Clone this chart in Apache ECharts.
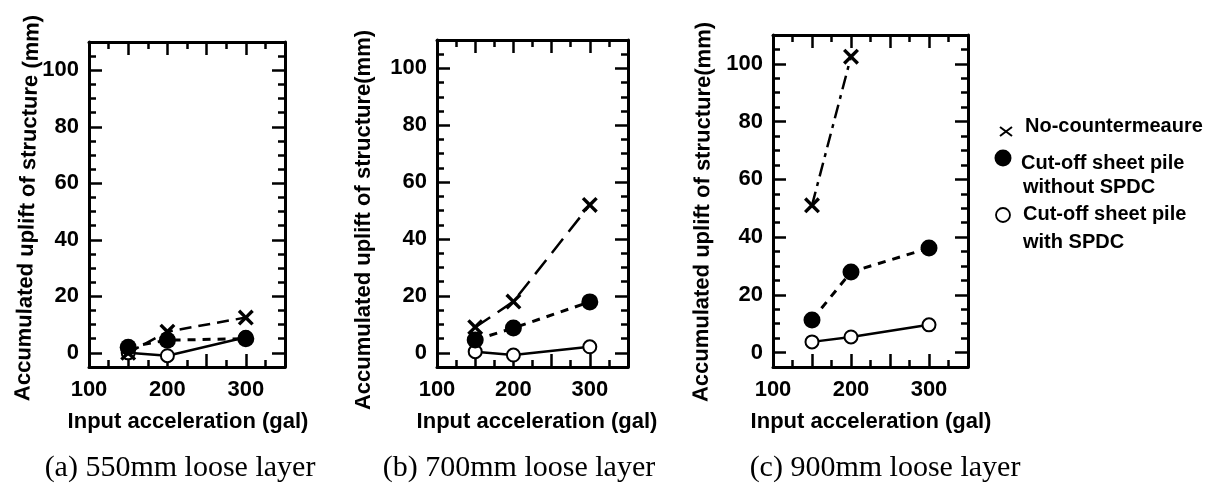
<!DOCTYPE html>
<html>
<head>
<meta charset="utf-8">
<script src="https://cdn.jsdelivr.net/npm/echarts@6/dist/echarts.min.js"></script>
<style>
  html, body { margin: 0; padding: 0; background: #fff; }
  #chart { width: 1222px; height: 487px; }
</style>
</head>
<body>
<div id="chart"></div>
<script>
// input acceleration (gal)
const accel = [150, 200, 300];
const accelC = [150, 200];

// (a) 550mm loose layer
const noCmA = [0, 7.5, 12.5];
const withoutA = [2, 4.5, 5];
const withA = [0, -1, 5.5];
// (b) 700mm loose layer
const noCmB = [9, 18, 52];
const withoutB = [4.5, 8.7, 17.9];
const withB = [0.4, -0.8, 2.1];
// (c) 900mm loose layer
const noCmC = [51, 102.5];
const withoutC = [11.3, 27.9, 36.2];
const withC = [3.7, 5.4, 9.6];

const yLabels = [0, 20, 40, 60, 80, 100];
const xLabels = [100, 200, 300];
const captions = ['(a) 550mm loose layer', '(b) 700mm loose layer', '(c) 900mm loose layer'];
const yTitles = ['Accumulated uplift of structure (mm)', 'Accumulated uplift of structure(mm)', 'Accumulated uplift of structure(mm)'];

const grids = [
  { left: 89, top: 42, width: 196, height: 325 },
  { left: 437, top: 40, width: 191, height: 327 },
  { left: 773, top: 35, width: 195, height: 332 }
];

const pair = (xs, ys) => xs.map((x, i) => [x, ys[i]]);
const panels = [
  { noCm: pair(accel, noCmA), without: pair(accel, withoutA), withS: pair(accel, withA), xDash: [12, 7] },
  { noCm: pair(accel, noCmB), without: pair(accel, withoutB), withS: pair(accel, withB), xDash: [18, 9] },
  { noCm: pair(accelC, noCmC), without: pair(accel, withoutC), withS: pair(accel, withC), xDash: [14, 6, 4, 6] }
];

const BOLD = 'bold 22px "Liberation Sans", Arial, sans-serif';
const tickStyle = { color: '#000', width: 2.5 };
const lineAxis = { show: true, onZero: false, lineStyle: { color: '#000', width: 3 } };
const noLine = { show: false, onZero: false };

const xAxis = [];
const yAxis = [];
grids.forEach((g, gi) => {
  const xb = { type: 'value', gridIndex: gi, min: 100, max: 350, splitLine: { show: false } };
  xAxis.push(
    { ...xb, position: 'bottom', interval: 50, axisLine: lineAxis,
      axisTick: { inside: true, length: 13, lineStyle: tickStyle },
      axisLabel: { margin: 12, color: '#000', fontSize: 22, fontWeight: 'bold', fontFamily: 'Liberation Sans',
        formatter: v => (xLabels.indexOf(v) >= 0 ? String(v) : '') } },
    { ...xb, position: 'bottom', interval: 25, axisLine: noLine,
      axisTick: { inside: true, length: 7, lineStyle: tickStyle }, axisLabel: { show: false } },
    { ...xb, position: 'top', interval: 50, axisLine: lineAxis,
      axisTick: { inside: true, length: 13, lineStyle: tickStyle }, axisLabel: { show: false } },
    { ...xb, position: 'top', interval: 25, axisLine: noLine,
      axisTick: { inside: true, length: 7, lineStyle: tickStyle }, axisLabel: { show: false } }
  );
  const yb = { type: 'value', gridIndex: gi, min: -5, max: 110, splitLine: { show: false } };
  yAxis.push(
    { ...yb, position: 'left', axisLine: lineAxis,
      axisTick: { inside: true, length: 13, lineStyle: tickStyle, customValues: yLabels },
      axisLabel: { margin: 10, color: '#000', fontSize: 22, fontWeight: 'bold', fontFamily: 'Liberation Sans',
        customValues: yLabels } },
    { ...yb, position: 'left', interval: 5, axisLine: noLine,
      axisTick: { inside: true, length: 7, lineStyle: tickStyle }, axisLabel: { show: false } },
    { ...yb, position: 'right', axisLine: lineAxis,
      axisTick: { inside: true, length: 13, lineStyle: tickStyle, customValues: yLabels },
      axisLabel: { show: false } },
    { ...yb, position: 'right', interval: 5, axisLine: noLine,
      axisTick: { inside: true, length: 7, lineStyle: tickStyle }, axisLabel: { show: false } }
  );
});

const crossPath = 'path://M3,0 L10,7 L17,0 L20,3 L13,10 L20,17 L17,20 L10,13 L3,20 L0,17 L7,10 L0,3 Z';

const series = [];
panels.forEach((p, gi) => {
  const ax = { xAxisIndex: gi * 4, yAxisIndex: gi * 4 };
  series.push(
    { ...ax, type: 'line', name: 'Cut-off sheet pile with SPDC', data: p.withS, z: 3,
      symbol: 'circle', symbolSize: 13,
      itemStyle: { color: '#fff', borderColor: '#000', borderWidth: 2 },
      lineStyle: { color: '#000', width: 2.5, type: 'solid' } },
    { ...ax, type: 'line', name: 'Cut-off sheet pile without SPDC', data: p.without, z: 4,
      symbol: 'circle', symbolSize: 17,
      itemStyle: { color: '#000', borderColor: '#000', borderWidth: 0 },
      lineStyle: { color: '#000', width: 3, type: [8, 7] } },
    { ...ax, type: 'line', name: 'No-countermeaure', data: p.noCm, z: 5,
      symbol: crossPath, symbolSize: 16,
      itemStyle: { color: '#000' },
      lineStyle: { color: '#000', width: 2.5, type: p.xDash } }
  );
});

const graphic = [];
const titlePos = [[28, 208, Math.PI / 2 - 0.025], [364, 220, Math.PI / 2], [703, 212, Math.PI / 2 - 0.008]];
titlePos.forEach((t, i) => {
  graphic.push({ type: 'text', x: t[0], y: t[1], rotation: t[2],
    style: { text: yTitles[i], font: BOLD, fill: '#000', align: 'center', verticalAlign: 'middle' } });
});
[188, 537, 871].forEach(x => {
  graphic.push({ type: 'text', x: x, y: 422,
    style: { text: 'Input acceleration (gal)', font: BOLD, fill: '#000', align: 'center', verticalAlign: 'middle' } });
});
[180, 519, 885].forEach((x, i) => {
  graphic.push({ type: 'text', x: x, y: 468,
    style: { text: captions[i], font: '30px "Liberation Serif", "Times New Roman", serif', fill: '#000',
      align: 'center', verticalAlign: 'middle' } });
});

// legend
const LEG = 'bold 20px "Liberation Sans", Arial, sans-serif';
graphic.push(
  { type: 'line', shape: { x1: 1000, y1: 127, x2: 1012, y2: 136 }, style: { stroke: '#000', lineWidth: 2 } },
  { type: 'line', shape: { x1: 1012, y1: 127, x2: 1000, y2: 136 }, style: { stroke: '#000', lineWidth: 2 } },
  { type: 'text', x: 1025, y: 126, style: { text: 'No-countermeaure', font: LEG, fill: '#000', verticalAlign: 'middle' } },
  { type: 'circle', shape: { cx: 1003, cy: 158, r: 8.5 }, style: { fill: '#000' } },
  { type: 'text', x: 1021, y: 163, style: { text: 'Cut-off sheet pile', font: LEG, fill: '#000', verticalAlign: 'middle' } },
  { type: 'text', x: 1023, y: 187, style: { text: 'without SPDC', font: LEG, fill: '#000', verticalAlign: 'middle' } },
  { type: 'circle', shape: { cx: 1003, cy: 215, r: 7 }, style: { fill: '#fff', stroke: '#000', lineWidth: 1.8 } },
  { type: 'text', x: 1023, y: 214, style: { text: 'Cut-off sheet pile', font: LEG, fill: '#000', verticalAlign: 'middle' } },
  { type: 'text', x: 1023, y: 242, style: { text: 'with SPDC', font: LEG, fill: '#000', verticalAlign: 'middle' } }
);

const chart = echarts.init(document.getElementById('chart'));
chart.setOption({
  backgroundColor: '#fff',
  animation: false,
  grid: grids.map(g => ({ ...g, containLabel: false })),
  xAxis: xAxis,
  yAxis: yAxis,
  series: series,
  graphic: graphic
});
</script>
</body>
</html>
